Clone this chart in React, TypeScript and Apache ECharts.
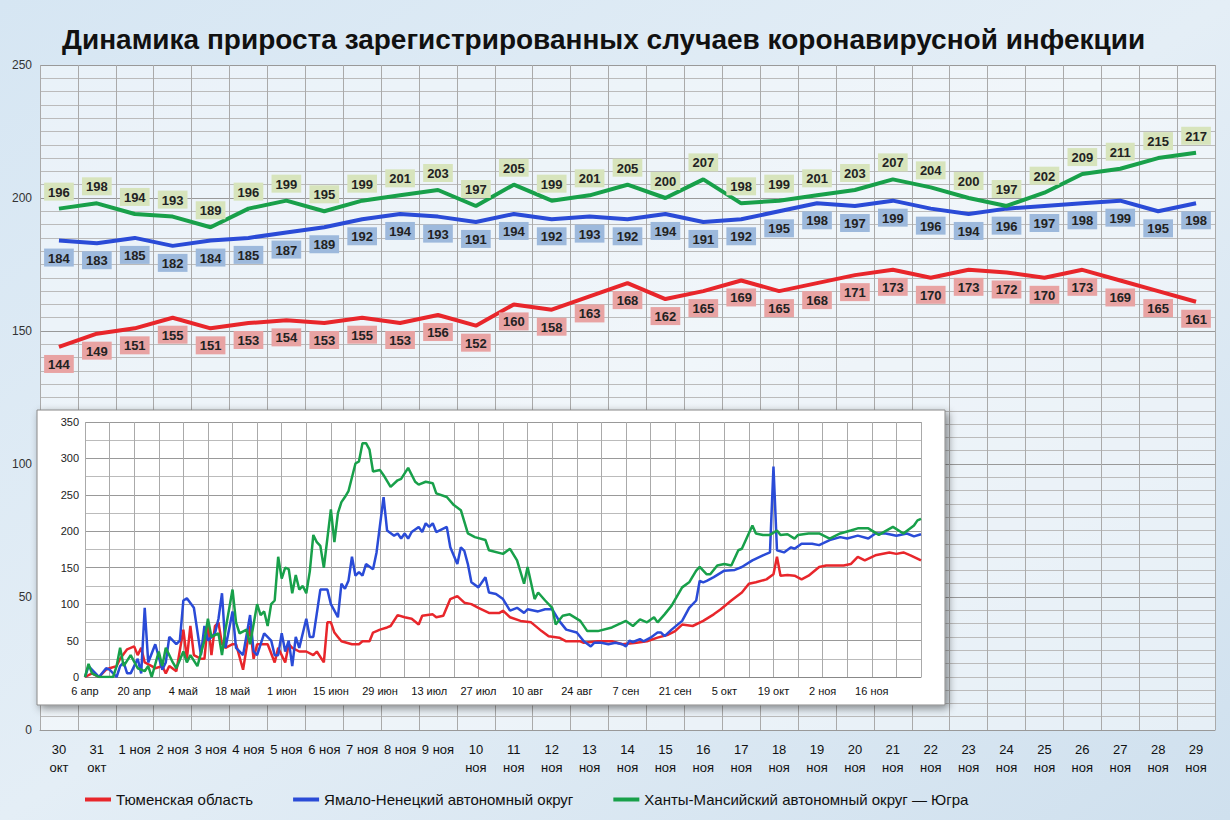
import React, { useEffect, useRef } from 'react';
import * as echarts from 'echarts';

const categories = [
  '30\nокт', '31\nокт', '1 ноя', '2 ноя', '3 ноя', '4 ноя', '5 ноя', '6 ноя', '7 ноя', '8 ноя', '9 ноя',
  '10\nноя', '11\nноя', '12\nноя', '13\nноя', '14\nноя', '15\nноя', '16\nноя', '17\nноя', '18\nноя', '19\nноя',
  '20\nноя', '21\nноя', '22\nноя', '23\nноя', '24\nноя', '25\nноя', '26\nноя', '27\nноя', '28\nноя', '29\nноя',
];

const tyumen = [144, 149, 151, 155, 151, 153, 154, 153, 155, 153, 156, 152, 160, 158, 163, 168, 162, 165, 169, 165, 168, 171, 173, 170, 173, 172, 170, 173, 169, 165, 161];
const yamal = [184, 183, 185, 182, 184, 185, 187, 189, 192, 194, 193, 191, 194, 192, 193, 192, 194, 191, 192, 195, 198, 197, 199, 196, 194, 196, 197, 198, 199, 195, 198];
const hmao = [196, 198, 194, 193, 189, 196, 199, 195, 199, 201, 203, 197, 205, 199, 201, 205, 200, 207, 198, 199, 201, 203, 207, 204, 200, 197, 202, 209, 211, 215, 217];

const names = ['Тюменская область', 'Ямало-Ненецкий автономный округ', 'Ханты-Мансийский автономный округ — Югра'];
const colors = ['#e8262b', '#2a4bd7', '#18a04a'];

// inset: [day since 6 апр, value]
const tyumenDaily = [[0,0],[2,5],[4,0],[6,10],[7,12],[9,15],[10,25],[12,38],[14,42],[15,30],[16,40],[17,20],[19,15],[20,12],[22,15],[23,5],[24,15],[26,8],[28,65],[29,25],[30,70],[31,30],[33,25],[34,25],[35,75],[36,30],[37,70],[38,75],[39,45],[40,40],[42,45],[43,45],[45,10],[47,70],[48,25],[49,45],[50,45],[52,45],[54,20],[55,40],[57,20],[58,45],[59,40],[61,35],[63,35],[65,30],[66,35],[68,20],[69,75],[70,75],[71,61],[72,55],[73,49],[76,45],[78,45],[79,49],[81,49],[82,61],[84,65],[86,68],[87,70],[89,85],[91,82],[93,80],[95,72],[96,84],[99,86],[100,82],[102,84],[104,107],[106,111],[108,102],[110,100],[112,95],[115,88],[118,88],[119,91],[121,82],[124,77],[127,75],[130,63],[132,56],[135,54],[137,49],[139,49],[141,49],[142,47],[146,49],[150,49],[153,45],[157,47],[160,49],[163,54],[166,58],[168,63],[170,72],[173,70],[176,77],[179,86],[181,93],[184,105],[187,116],[189,128],[191,130],[194,134],[196,141],[197,165],[198,139],[200,140],[202,139],[204,134],[206,139],[209,151],[211,153],[213,153],[216,153],[218,155],[220,165],[222,160],[225,167],[229,171],[231,169],[233,171],[235,167],[238,160]];
const yamalDaily = [[0,0],[1,15],[3,5],[4,0],[6,12],[7,10],[9,0],[10,15],[11,20],[12,5],[13,5],[15,25],[16,5],[17,95],[18,20],[20,45],[22,10],[23,20],[24,55],[26,45],[27,50],[28,105],[29,108],[31,95],[33,30],[34,70],[35,50],[37,60],[38,80],[39,115],[40,40],[42,90],[43,40],[45,30],[47,85],[48,35],[49,30],[51,60],[53,50],[54,30],[55,30],[56,60],[57,35],[58,50],[59,15],[60,55],[61,40],[63,80],[64,55],[65,55],[67,120],[69,120],[70,100],[71,91],[72,82],[73,128],[74,121],[75,132],[76,165],[77,139],[78,144],[79,139],[80,155],[82,148],[83,171],[85,247],[86,201],[88,194],[89,197],[90,190],[91,197],[92,190],[93,199],[95,206],[96,199],[97,211],[98,206],[99,211],[100,199],[103,206],[104,178],[106,155],[107,178],[108,173],[109,155],[110,130],[112,123],[114,137],[115,116],[117,114],[119,107],[121,91],[123,95],[125,88],[126,93],[128,91],[129,90],[131,93],[133,93],[135,77],[137,65],[140,61],[142,49],[144,42],[145,47],[147,47],[149,45],[151,47],[153,45],[154,42],[155,50],[156,48],[158,52],[159,49],[161,54],[163,61],[164,61],[165,56],[167,65],[170,77],[172,95],[174,105],[175,132],[176,130],[177,132],[179,137],[182,146],[185,147],[187,151],[190,160],[193,167],[195,171],[196,289],[197,174],[199,171],[201,178],[202,176],[204,183],[207,183],[209,181],[212,188],[215,192],[217,190],[220,194],[223,190],[225,197],[228,197],[231,194],[234,197],[236,193],[238,196]];
const hmaoDaily = [[0,0],[1,18],[2,5],[4,0],[8,0],[9,15],[10,40],[11,15],[13,30],[15,12],[17,8],[18,15],[19,0],[21,35],[22,15],[23,40],[25,20],[26,12],[28,35],[29,20],[30,30],[32,15],[34,50],[35,80],[36,55],[38,60],[39,30],[40,65],[42,120],[43,75],[44,60],[46,65],[47,45],[49,100],[50,85],[51,90],[52,70],[53,100],[54,105],[55,165],[56,135],[57,150],[58,148],[59,115],[60,140],[61,120],[62,125],[63,115],[64,145],[65,195],[66,185],[67,180],[68,150],[70,230],[71,185],[72,225],[73,240],[74,247],[75,255],[77,293],[78,296],[79,321],[80,321],[81,312],[82,282],[84,284],[85,277],[87,261],[89,270],[90,272],[92,287],[94,268],[95,264],[97,268],[99,266],[100,252],[103,247],[105,236],[107,229],[109,197],[111,192],[114,188],[115,174],[119,169],[121,176],[123,160],[125,128],[126,151],[128,107],[129,116],[131,105],[133,95],[134,72],[136,84],[138,86],[141,77],[143,63],[146,63],[150,68],[154,77],[156,70],[158,79],[160,75],[162,82],[163,75],[165,86],[167,98],[170,123],[172,130],[174,146],[175,151],[177,141],[178,141],[180,153],[182,155],[184,153],[186,174],[187,176],[190,208],[191,197],[193,195],[195,195],[197,201],[198,195],[200,196],[202,190],[203,195],[206,197],[209,197],[212,190],[215,197],[218,201],[220,204],[223,204],[226,195],[230,206],[233,197],[236,208],[237,215],[238,217]];

const monthNames = ['янв', 'фев', 'мар', 'апр', 'май', 'июн', 'июл', 'авг', 'сен', 'окт', 'ноя', 'дек'];
const DAYS = 239;

const dayLabels: string[] = [];
for (let i = 0; i < DAYS; i++) {
  const d = new Date(2020, 3, 6 + i);
  dayLabels.push(d.getDate() + ' ' + monthNames[d.getMonth()]);
}

const toDaily = (pairs: number[][]) => {
  const arr: (number | null)[] = new Array(DAYS).fill(null);
  pairs.forEach(([d, v]) => { arr[d] = v; });
  return arr;
};

const labelBg = ['#e8a3a3', '#9db9dc', '#d7e4bc'];

const App: React.FC = () => {
  const chartRef = useRef<HTMLDivElement | null>(null);

  useEffect(() => {
    if (!chartRef.current) return;
    const chart = echarts.init(chartRef.current, undefined, { renderer: 'svg' });
    const mainData = [tyumen, yamal, hmao];
    const dailyData = [tyumenDaily, yamalDaily, hmaoDaily];

    const option: echarts.EChartsOption = {
      animation: false,
      backgroundColor: {
        type: 'linear', x: 0, y: 0, x2: 1, y2: 1,
        colorStops: [
          { offset: 0, color: '#d6e6f3' },
          { offset: 0.5, color: '#e4eef6' },
          { offset: 1, color: '#cfe0ee' },
        ],
      },
      textStyle: { fontFamily: 'Liberation Sans, Arial, sans-serif' },
      title: {
        text: 'Динамика прироста зарегистрированных случаев коронавирусной инфекции',
        left: 57,
        top: 20,
        textStyle: { fontSize: 28, fontWeight: 'bold', color: '#111' },
      },
      legend: {
        data: names,
        bottom: 8,
        left: 80,
        itemGap: 40,
        icon: 'rect',
        itemWidth: 26,
        itemHeight: 4,
        textStyle: { fontSize: 15, color: '#111' },
      },
      graphic: [
        {
          type: 'rect',
          z: 1,
          shape: { x: 37, y: 410, width: 908, height: 295 },
          style: { fill: '#fff', stroke: '#888', lineWidth: 1, shadowBlur: 8, shadowColor: 'rgba(0,0,0,0.45)', shadowOffsetX: 3, shadowOffsetY: 3 },
        },
      ],
      grid: [
        { left: 40, right: 15, top: 65, bottom: 90, backgroundColor: 'rgba(255,255,255,0.45)', show: true, borderWidth: 0 },
        { left: 85, top: 422, width: 836, height: 255, z: 5 },
      ],
      xAxis: [
        {
          type: 'category',
          gridIndex: 0,
          data: categories,
          boundaryGap: true,
          axisLine: { lineStyle: { color: '#999' } },
          axisTick: { show: false },
          axisLabel: { interval: 0, fontSize: 13, color: '#111', lineHeight: 18, margin: 10 },
          splitLine: { show: true, lineStyle: { color: '#aaa', width: 1 } },
        },
        {
          type: 'category',
          gridIndex: 1,
          data: dayLabels,
          boundaryGap: false,
          z: 5,
          axisLine: { lineStyle: { color: '#888' } },
          axisTick: { show: false },
          axisLabel: { interval: (i: number) => i % 14 === 0 && i < 230, fontSize: 11, color: '#111', margin: 8 },
          splitLine: { show: true, interval: 6, lineStyle: { color: '#aaa' } },
        },
      ],
      yAxis: [
        {
          type: 'value',
          gridIndex: 0,
          min: 0,
          max: 250,
          interval: 50,
          axisLine: { show: false },
          axisLabel: { fontSize: 12, color: '#333', margin: 8 },
          splitLine: { lineStyle: { color: '#999' } },
          minorTick: { show: false, splitNumber: 10 },
          minorSplitLine: { show: true, lineStyle: { color: '#bbb', width: 1 } },
        },
        {
          type: 'value',
          gridIndex: 1,
          min: 0,
          max: 350,
          interval: 50,
          z: 5,
          axisLine: { show: false },
          axisLabel: { fontSize: 11, color: '#222', margin: 6 },
          splitLine: { lineStyle: { color: '#999' } },
          minorTick: { show: false, splitNumber: 2 },
          minorSplitLine: { show: true, lineStyle: { color: '#bbb' } },
        },
      ],
      series: [
        ...names.map((name, i) => ({
          name,
          type: 'line' as const,
          xAxisIndex: 0,
          yAxisIndex: 0,
          data: mainData[i],
          symbol: 'circle',
          symbolSize: 0,
          showSymbol: true,
          lineStyle: { color: colors[i], width: 4 },
          itemStyle: { color: colors[i] },
          z: 3,
          label: {
            show: true,
            position: (i === 2 ? 'top' : 'bottom') as 'top' | 'bottom',
            distance: 8,
            fontSize: 13,
            fontWeight: 'bold' as const,
            color: '#222',
            backgroundColor: labelBg[i],
            padding: [3, 4, 2, 4],
          },
        })),
        ...names.map((name, i) => ({
          name,
          type: 'line' as const,
          xAxisIndex: 1,
          yAxisIndex: 1,
          data: toDaily(dailyData[i]),
          connectNulls: true,
          symbol: 'none',
          lineStyle: { color: colors[i], width: 2.5 },
          itemStyle: { color: colors[i] },
          z: 6,
        })),
      ],
    };

    chart.setOption(option);
    return () => {
      chart.dispose();
    };
  }, []);

  return <div ref={chartRef} style={{ position: 'fixed', left: 0, top: 0, width: 1230, height: 820 }} />;
};

export default App;
